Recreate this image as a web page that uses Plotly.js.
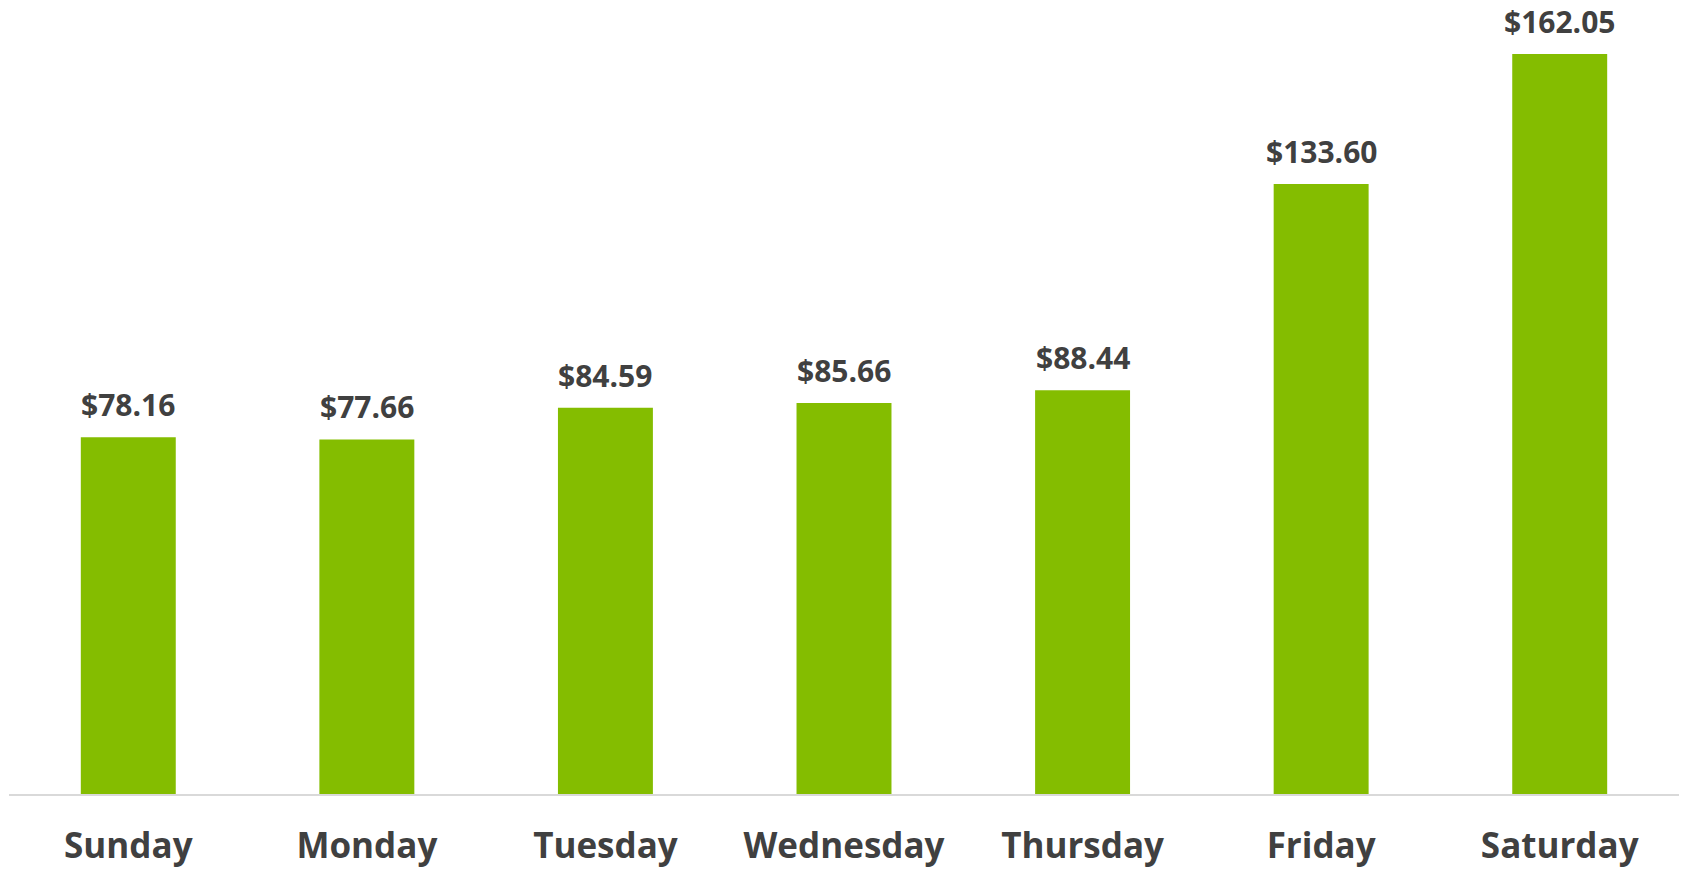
<!DOCTYPE html>
<html>
<head>
<meta charset="utf-8">
<script src="https://cdn.plot.ly/plotly-3.0.1.min.js"></script>
<style>html,body{margin:0;padding:0;background:#fff;}#chart{width:1683px;height:872px;}</style>
</head>
<body>
<div id="chart"></div>
<script>
const days = ["Sunday", "Monday", "Tuesday", "Wednesday", "Thursday", "Friday", "Saturday"];
const values = [78.16, 77.66, 84.59, 85.66, 88.44, 133.60, 162.05];
const labels = values.map(v => "$" + v.toFixed(2));

const trace = {
  type: "bar",
  x: days,
  y: values,
  marker: {color: "#84BD00"},
  hoverinfo: "skip"
};

const annotations = days.map((d, i) => ({
  x: d,
  y: values[i],
  xref: "x",
  yref: "y",
  text: labels[i],
  showarrow: false,
  yanchor: "bottom",
  yshift: 10,
  font: {family: "Open Sans", size: 30, color: "#404040", weight: "bold"}
}));

const layout = {
  width: 1683,
  height: 872,
  margin: {l: 9, r: 4, t: 0, b: 78},
  paper_bgcolor: "#ffffff",
  plot_bgcolor: "#ffffff",
  bargap: 0.602,
  showlegend: false,
  annotations: annotations,
  xaxis: {
    showline: true,
    linecolor: "#d9d9d9",
    linewidth: 2,
    ticks: "",
    showgrid: false,
    ticklabelstandoff: 20,
    tickfont: {family: "Open Sans", size: 35, color: "#404040", weight: "bold"}
  },
  yaxis: {
    range: [0, 173.9],
    visible: false,
    showgrid: false,
    zeroline: false
  }
};

Plotly.newPlot("chart", [trace], layout, {displayModeBar: false, staticPlot: true});
</script>
</body>
</html>
